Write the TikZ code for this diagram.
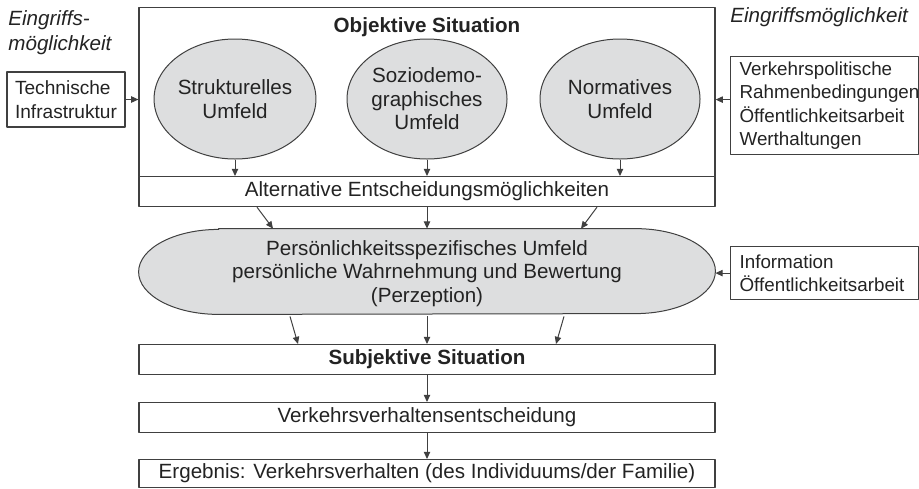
\documentclass[tikz,border=0pt]{standalone}
\usepackage{fontspec}
\setmainfont{Liberation Sans}
\usetikzlibrary{shapes.geometric,arrows.meta}
\definecolor{ovalgray}{RGB}{221,222,223}
\definecolor{linegray}{RGB}{64,64,64}
\definecolor{textgray}{RGB}{35,35,35}
\newcommand{\basesize}{\fontsize{10.3}{11.8}\selectfont}
\newcommand{\sidesize}{\fontsize{9.4}{11.8}\selectfont}
\tikzset{
	box/.style={draw=linegray,line width=0.6pt,minimum width=288pt,minimum height=15pt,inner sep=0pt,anchor=north},
	sidebox/.style={draw=linegray,line width=0.6pt,font=\sidesize,align=left,anchor=north west,inner xsep=4.5pt,inner ysep=0pt,text width=85pt},
	oval/.style={ellipse,draw=linegray,line width=0.5pt,fill=ovalgray,inner sep=0pt,align=center,minimum width=80pt,minimum height=60pt},
	arr/.style={draw=linegray,line width=0.5pt,-{Triangle[length=3.6pt,width=3.2pt]}},
	hint/.style={font=\basesize\itshape,inner sep=0pt,align=left}
}
\begin{document}
\begin{tikzpicture}[x=1pt,y=1pt,font=\basesize,text=textgray,line join=round]
	\useasboundingbox (0,0) rectangle (459.5,-244);
	\node[hint,anchor=north west,font=\fontsize{10.3}{12.8}\selectfont\itshape] (hintl) at (4,-5) {Eingriffs-\\möglichkeit};
	\node[hint,anchor=west] (hintr) at (365,-8.5) {Eingriffsmöglichkeit};
	\node[box,minimum height=84.5pt] (obj) at (213.5,-3.5) {};
	\node (objt) at (213.5,-13.5) {\textbf{Objektive Situation}};
	\node[oval] (struk) at (117.5,-49.5) {Strukturelles\\Umfeld};
	\node[oval] (sozio) at (213.5,-49.5) {Soziodemo-\\graphisches\\Umfeld};
	\node[oval] (norm) at (310,-49.5) {Normatives\\Umfeld};
	\node[box] (alt) at (213.5,-88) {Alternative Entscheidungsmöglichkeiten};
	\node[draw=linegray,line width=0.6pt,font=\fontsize{9.55}{11.8}\selectfont,align=left,minimum width=59pt,minimum height=27.5pt,inner sep=0pt] (tech) at (33,-49.75) {Technische\\Infrastruktur};
	\node[sidebox,minimum height=49pt] (pol) at (365,-28) {Verkehrspolitische\\Rahmenbedingungen\\Öffentlichkeitsarbeit\\Werthaltungen};
	\node[inner sep=0pt,minimum width=288pt,minimum height=42.5pt] (pers) at (213.5,-135.75) {};
	\filldraw[draw=linegray,line width=0.5pt,fill=ovalgray] ([xshift=40pt]pers.north west) -- ([xshift=-40pt]pers.north east)
		arc[start angle=90,end angle=-90,x radius=40pt,y radius=21.25pt] -- ([xshift=40pt]pers.south west)
		arc[start angle=270,end angle=90,x radius=40pt,y radius=21.25pt] -- cycle;
	\node[align=center,inner sep=0pt] (perst) at ([yshift=-1pt]pers.center) {Persönlichkeitsspezifisches Umfeld\\persönliche Wahrnehmung und Bewertung\\(Perzeption)};
	\node[sidebox,minimum height=26.5pt] (info) at (365,-123) {Information\\Öffentlichkeitsarbeit};
	\node[box] (subj) at (213.5,-172) {\textbf{Subjektive Situation}};
	\node[box] (verk) at (213.5,-201) {Verkehrsverhaltensentscheidung};
	\node[box,minimum height=14pt] (erg) at (213.5,-229.5) {Ergebnis: Verkehrsverhalten (des Individuums/der Familie)};
	\foreach \n in {struk,sozio,norm} \draw[arr] (\n.south) -- (\n.south |- alt.north);
	\draw[arr] ([xshift=-85pt]alt.south) -- ([xshift=-77pt]pers.north);
	\draw[arr] (alt.south) -- (pers.north);
	\draw[arr] ([xshift=85pt]alt.south) -- ([xshift=77pt]pers.north);
	\draw[arr] ([xshift=-68.5pt,yshift=-1pt]pers.south) -- ([xshift=-64.5pt]subj.north);
	\draw[arr] ([yshift=-1pt]pers.south) -- (subj.north);
	\draw[arr] ([xshift=68.5pt,yshift=-1pt]pers.south) -- ([xshift=64.5pt]subj.north);
	\draw[arr] (subj.south) -- (verk.north);
	\draw[arr] (verk.south) -- (erg.north);
	\draw[arr] (tech.east) -- (tech.east -| obj.west);
	\draw[arr] ([yshift=3pt]pol.west) -- ([yshift=3pt]pol.west -| obj.east);
	\draw[arr] (info.west) -- (info.west -| pers.east);
\end{tikzpicture}
\end{document}
